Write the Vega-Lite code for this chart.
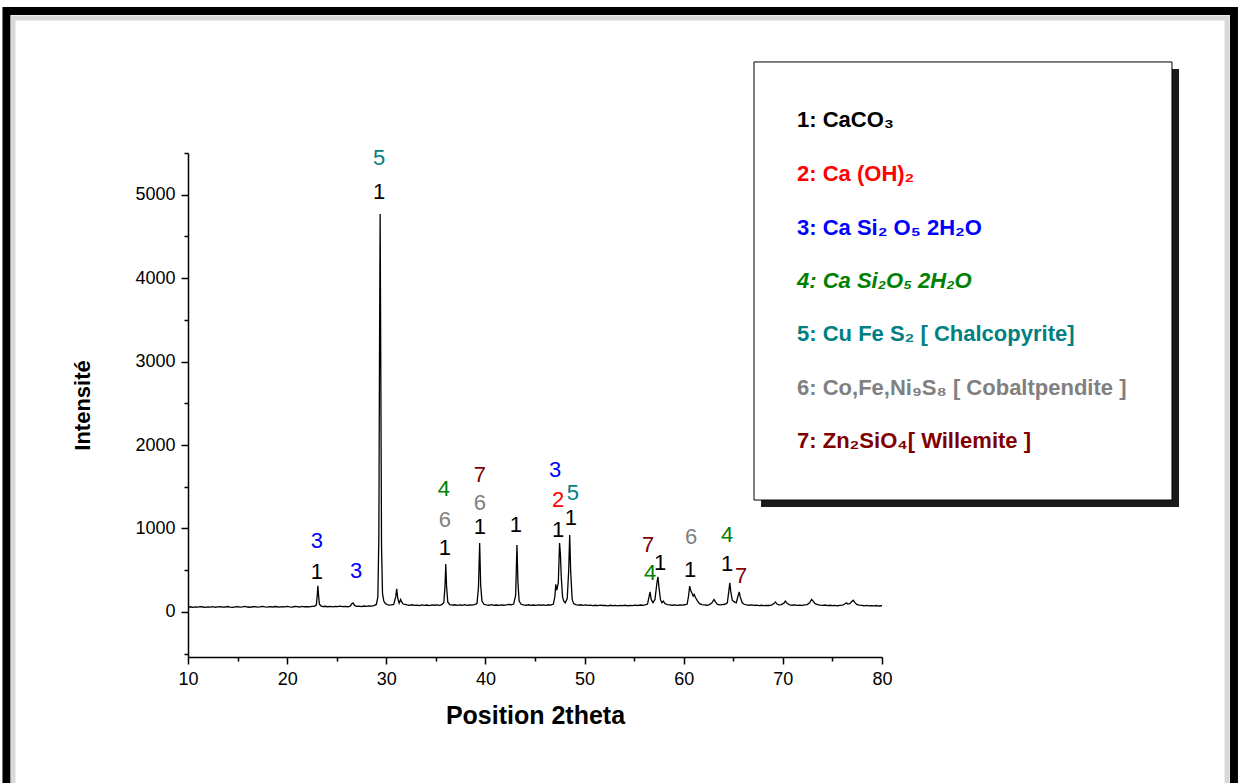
{
 "$schema": "https://vega.github.io/schema/vega-lite/v6.json",
 "width": 694,
 "height": 504,
 "autosize": {"type": "none"},
 "padding": {"left": 188, "top": 153, "right": 359, "bottom": 126},
 "background": "white",
 "config": {
  "view": {"stroke": null},
  "axis": {"domainColor": "black", "domainWidth": 1.5, "tickColor": "black", "tickWidth": 1.5, "labelFont": "Liberation Sans", "labelFontSize": 18, "labelColor": "black", "titleFont": "Liberation Sans", "titleFontWeight": "bold", "titleColor": "black", "grid": false}
 },
 "datasets": {
  "xrd": [
   {"t":10,"i":58},{"t":10.25,"i":62},{"t":10.5,"i":55},{"t":10.75,"i":60},{"t":11,"i":57},{"t":11.25,"i":63},{"t":11.5,"i":59},{"t":11.75,"i":54},{"t":12,"i":61},{"t":12.25,"i":58},{"t":12.5,"i":64},{"t":12.75,"i":56},{"t":13,"i":60},{"t":13.25,"i":62},{"t":13.5,"i":57},{"t":13.75,"i":59},{"t":14,"i":65},{"t":14.25,"i":58},{"t":14.5,"i":55},{"t":14.75,"i":61},{"t":15,"i":63},{"t":15.25,"i":57},{"t":15.5,"i":60},{"t":15.75,"i":66},{"t":16,"i":59},{"t":16.25,"i":56},{"t":16.5,"i":62},{"t":16.75,"i":64},{"t":17,"i":58},{"t":17.25,"i":61},{"t":17.5,"i":67},{"t":17.75,"i":60},{"t":18,"i":57},{"t":18.25,"i":63},{"t":18.5,"i":59},{"t":18.75,"i":65},{"t":19,"i":62},{"t":19.25,"i":58},{"t":19.5,"i":64},{"t":19.75,"i":60},{"t":20,"i":66},{"t":20.25,"i":61},{"t":20.5,"i":58},{"t":20.75,"i":65},{"t":21,"i":63},{"t":21.25,"i":59},{"t":21.5,"i":67},{"t":21.75,"i":62},{"t":22,"i":64},{"t":22.25,"i":60},{"t":22.5,"i":66},{"t":22.75,"i":68},{"t":22.95,"i":85},{"t":23.05,"i":220},{"t":23.1,"i":312},{"t":23.15,"i":230},{"t":23.25,"i":95},{"t":23.4,"i":72},{"t":23.6,"i":64},{"t":23.85,"i":68},{"t":24.1,"i":62},{"t":24.35,"i":66},{"t":24.6,"i":61},{"t":24.85,"i":67},{"t":25.1,"i":63},{"t":25.35,"i":69},{"t":25.6,"i":64},{"t":25.85,"i":66},{"t":26.1,"i":62},{"t":26.35,"i":70},{"t":26.55,"i":100},{"t":26.65,"i":108},{"t":26.8,"i":78},{"t":27,"i":66},{"t":27.25,"i":70},{"t":27.5,"i":64},{"t":27.75,"i":71},{"t":28,"i":67},{"t":28.25,"i":73},{"t":28.5,"i":69},{"t":28.75,"i":76},{"t":29,"i":90},{"t":29.15,"i":180},{"t":29.25,"i":900},{"t":29.32,"i":3200},{"t":29.38,"i":4770},{"t":29.44,"i":3100},{"t":29.52,"i":800},{"t":29.62,"i":220},{"t":29.75,"i":130},{"t":29.9,"i":100},{"t":30.1,"i":88},{"t":30.3,"i":82},{"t":30.5,"i":85},{"t":30.75,"i":90},{"t":30.95,"i":180},{"t":31.05,"i":276},{"t":31.15,"i":170},{"t":31.3,"i":105},{"t":31.45,"i":150},{"t":31.55,"i":120},{"t":31.7,"i":95},{"t":31.9,"i":90},{"t":32.1,"i":84},{"t":32.35,"i":80},{"t":32.6,"i":86},{"t":32.85,"i":78},{"t":33.1,"i":82},{"t":33.35,"i":76},{"t":33.6,"i":84},{"t":33.85,"i":79},{"t":34.1,"i":83},{"t":34.35,"i":77},{"t":34.6,"i":85},{"t":34.85,"i":80},{"t":35.1,"i":84},{"t":35.35,"i":79},{"t":35.6,"i":88},{"t":35.8,"i":110},{"t":35.92,"i":300},{"t":36,"i":575},{"t":36.08,"i":310},{"t":36.2,"i":120},{"t":36.4,"i":88},{"t":36.65,"i":82},{"t":36.9,"i":86},{"t":37.15,"i":79},{"t":37.4,"i":84},{"t":37.65,"i":80},{"t":37.9,"i":87},{"t":38.15,"i":78},{"t":38.4,"i":83},{"t":38.65,"i":81},{"t":38.9,"i":89},{"t":39.15,"i":100},{"t":39.3,"i":300},{"t":39.42,"i":827},{"t":39.52,"i":320},{"t":39.65,"i":130},{"t":39.85,"i":92},{"t":40.1,"i":85},{"t":40.35,"i":80},{"t":40.6,"i":87},{"t":40.85,"i":79},{"t":41.1,"i":83},{"t":41.35,"i":78},{"t":41.6,"i":85},{"t":41.85,"i":80},{"t":42.1,"i":84},{"t":42.35,"i":90},{"t":42.6,"i":86},{"t":42.85,"i":95},{"t":43.05,"i":200},{"t":43.18,"i":803},{"t":43.28,"i":350},{"t":43.4,"i":130},{"t":43.6,"i":92},{"t":43.85,"i":84},{"t":44.1,"i":80},{"t":44.35,"i":86},{"t":44.6,"i":78},{"t":44.85,"i":83},{"t":45.1,"i":79},{"t":45.35,"i":85},{"t":45.6,"i":80},{"t":45.85,"i":84},{"t":46.1,"i":79},{"t":46.35,"i":86},{"t":46.6,"i":82},{"t":46.85,"i":95},{"t":47,"i":180},{"t":47.1,"i":330},{"t":47.2,"i":260},{"t":47.35,"i":350},{"t":47.48,"i":827},{"t":47.56,"i":700},{"t":47.65,"i":420},{"t":47.78,"i":180},{"t":47.9,"i":130},{"t":48.05,"i":110},{"t":48.25,"i":160},{"t":48.4,"i":500},{"t":48.5,"i":923},{"t":48.6,"i":480},{"t":48.75,"i":150},{"t":48.9,"i":100},{"t":49.1,"i":88},{"t":49.35,"i":82},{"t":49.6,"i":86},{"t":49.85,"i":79},{"t":50.1,"i":84},{"t":50.35,"i":78},{"t":50.6,"i":82},{"t":50.85,"i":76},{"t":51.1,"i":80},{"t":51.35,"i":75},{"t":51.6,"i":81},{"t":51.85,"i":77},{"t":52.1,"i":79},{"t":52.35,"i":74},{"t":52.6,"i":80},{"t":52.85,"i":76},{"t":53.1,"i":78},{"t":53.35,"i":73},{"t":53.6,"i":79},{"t":53.85,"i":75},{"t":54.1,"i":80},{"t":54.35,"i":74},{"t":54.6,"i":78},{"t":54.85,"i":76},{"t":55.1,"i":81},{"t":55.35,"i":77},{"t":55.6,"i":83},{"t":55.85,"i":80},{"t":56.1,"i":86},{"t":56.35,"i":95},{"t":56.5,"i":180},{"t":56.6,"i":240},{"t":56.72,"i":150},{"t":56.9,"i":110},{"t":57.1,"i":150},{"t":57.3,"i":350},{"t":57.4,"i":420},{"t":57.5,"i":300},{"t":57.65,"i":150},{"t":57.8,"i":110},{"t":57.95,"i":130},{"t":58.1,"i":100},{"t":58.35,"i":88},{"t":58.6,"i":84},{"t":58.85,"i":80},{"t":59.1,"i":85},{"t":59.35,"i":79},{"t":59.6,"i":83},{"t":59.85,"i":81},{"t":60.1,"i":86},{"t":60.35,"i":95},{"t":60.5,"i":200},{"t":60.6,"i":310},{"t":60.7,"i":260},{"t":60.85,"i":220},{"t":60.95,"i":190},{"t":61.05,"i":210},{"t":61.2,"i":170},{"t":61.4,"i":130},{"t":61.6,"i":100},{"t":61.85,"i":88},{"t":62.1,"i":84},{"t":62.35,"i":80},{"t":62.6,"i":88},{"t":62.85,"i":110},{"t":63.05,"i":150},{"t":63.2,"i":120},{"t":63.4,"i":90},{"t":63.65,"i":84},{"t":63.9,"i":88},{"t":64.15,"i":92},{"t":64.4,"i":110},{"t":64.55,"i":250},{"t":64.65,"i":350},{"t":64.75,"i":240},{"t":64.9,"i":140},{"t":65.1,"i":120},{"t":65.3,"i":110},{"t":65.5,"i":200},{"t":65.6,"i":240},{"t":65.7,"i":180},{"t":65.9,"i":110},{"t":66.1,"i":92},{"t":66.35,"i":85},{"t":66.6,"i":80},{"t":66.85,"i":84},{"t":67.1,"i":78},{"t":67.35,"i":82},{"t":67.6,"i":76},{"t":67.85,"i":80},{"t":68.1,"i":75},{"t":68.35,"i":79},{"t":68.6,"i":77},{"t":68.85,"i":82},{"t":69.1,"i":100},{"t":69.25,"i":120},{"t":69.4,"i":95},{"t":69.6,"i":85},{"t":69.85,"i":88},{"t":70.1,"i":105},{"t":70.25,"i":130},{"t":70.45,"i":100},{"t":70.7,"i":85},{"t":70.95,"i":80},{"t":71.2,"i":84},{"t":71.45,"i":78},{"t":71.7,"i":82},{"t":71.95,"i":79},{"t":72.2,"i":84},{"t":72.45,"i":88},{"t":72.7,"i":110},{"t":72.9,"i":150},{"t":73.05,"i":130},{"t":73.25,"i":100},{"t":73.5,"i":88},{"t":73.75,"i":82},{"t":74,"i":78},{"t":74.25,"i":83},{"t":74.5,"i":76},{"t":74.75,"i":80},{"t":75,"i":75},{"t":75.25,"i":79},{"t":75.5,"i":74},{"t":75.75,"i":78},{"t":76,"i":82},{"t":76.25,"i":95},{"t":76.4,"i":110},{"t":76.55,"i":95},{"t":76.75,"i":100},{"t":76.95,"i":125},{"t":77.1,"i":140},{"t":77.25,"i":115},{"t":77.45,"i":90},{"t":77.7,"i":82},{"t":77.95,"i":78},{"t":78.2,"i":74},{"t":78.45,"i":79},{"t":78.7,"i":72},{"t":78.95,"i":76},{"t":79.2,"i":73},{"t":79.45,"i":77},{"t":79.7,"i":71},{"t":80,"i":74}
  ],
  "labels": [
   {"t":23.01,"i":851,"ph":"3"},{"t":23.01,"i":480,"ph":"1"},{"t":26.95,"i":492,"ph":"3"},{"t":29.27,"i":5444,"ph":"5"},{"t":29.27,"i":5036,"ph":"1"},{"t":35.82,"i":1475,"ph":"4"},{"t":35.92,"i":1103,"ph":"6"},{"t":35.92,"i":767,"ph":"1"},{"t":39.45,"i":1643,"ph":"7"},{"t":39.45,"i":1307,"ph":"6"},{"t":39.45,"i":1019,"ph":"1"},{"t":43.08,"i":1043,"ph":"1"},{"t":47.02,"i":1703,"ph":"3"},{"t":47.32,"i":1343,"ph":"2"},{"t":47.32,"i":983,"ph":"1"},{"t":48.83,"i":1427,"ph":"5"},{"t":48.63,"i":1127,"ph":"1"},{"t":56.4,"i":803,"ph":"7"},{"t":56.6,"i":468,"ph":"4"},{"t":57.61,"i":588,"ph":"1"},{"t":60.74,"i":899,"ph":"6"},{"t":60.64,"i":504,"ph":"1"},{"t":64.37,"i":923,"ph":"4"},{"t":64.37,"i":576,"ph":"1"},{"t":65.78,"i":432,"ph":"7"}
  ],
  "legend": [
   {"t":71.43,"i":5896,"ph":"1","txt":"1: CaCO₃"},
   {"t":71.43,"i":5248,"ph":"2","txt":"2: Ca (OH)₂"},
   {"t":71.43,"i":4601,"ph":"3","txt":"3: Ca Si₂ O₅ 2H₂O"},
   {"t":71.43,"i":3966,"ph":"4","txt":"4: Ca Si₂O₅ 2H₂O"},
   {"t":71.43,"i":3331,"ph":"5","txt":"5: Cu Fe S₂ [ Chalcopyrite]"},
   {"t":71.43,"i":2684,"ph":"6","txt":"6: Co,Fe,Ni₉S₈ [ Cobaltpendite ]"},
   {"t":71.43,"i":2048,"ph":"7","txt":"7: Zn₂SiO₄[ Willemite ]"}
  ]
 },
 "resolve": {"axis": {"x": "independent", "y": "independent"}},
 "layer": [
  {
   "data": {"values": [{}]},
   "mark": {"type": "rect", "fillOpacity": 0, "stroke": "black", "strokeWidth": 8, "clip": false},
   "encoding": {
    "x": {"datum": -8.31, "type": "quantitative", "scale": {"domain": [10, 80], "nice": false, "zero": false},
          "axis": {"orient": "bottom", "values": [15, 25, 35, 45, 55, 65, 75], "labels": false, "domain": false, "tickSize": 4, "title": null}},
    "x2": {"datum": 115.5},
    "y": {"datum": 7202, "type": "quantitative", "scale": {"domain": [-540, 5500], "nice": false, "zero": false},
          "axis": {"orient": "left", "values": [-500, 500, 1500, 2500, 3500, 4500, 5500], "labels": false, "domain": false, "tickSize": 4, "title": null}},
    "y2": {"datum": -2134}
   }
  },
  {
   "data": {"values": [{}]},
   "mark": {"type": "rect", "fillOpacity": 0, "stroke": "#c8c8c8", "strokeWidth": 5, "strokeOpacity": 0.7, "clip": false},
   "encoding": {
    "x": {"datum": -7.65, "type": "quantitative", "axis": null},
    "x2": {"datum": 114.8},
    "y": {"datum": 7118, "type": "quantitative", "axis": null},
    "y2": {"datum": -2134}
   }
  },
  {
   "data": {"values": [{}]},
   "mark": {"type": "rect", "fill": "#1a1a1a", "clip": false},
   "encoding": {
    "x": {"datum": 67.8, "type": "quantitative", "axis": null},
    "x2": {"datum": 109.96},
    "y": {"datum": 6507, "type": "quantitative", "axis": null},
    "y2": {"datum": 1258}
   }
  },
  {
   "data": {"values": [{}]},
   "mark": {"type": "rect", "fill": "white", "stroke": "black", "strokeWidth": 1, "clip": false},
   "encoding": {
    "x": {"datum": 67.09, "type": "quantitative", "axis": null},
    "x2": {"datum": 109.25},
    "y": {"datum": 6591, "type": "quantitative", "axis": null},
    "y2": {"datum": 1341}
   }
  },
  {
   "data": {"name": "legend"},
   "transform": [{"filter": "datum.ph != '4'"}],
   "mark": {"type": "text", "align": "left", "baseline": "middle", "font": "Liberation Sans", "fontSize": 22, "fontWeight": "bold", "clip": false},
   "encoding": {
    "x": {"field": "t", "type": "quantitative", "axis": null},
    "y": {"field": "i", "type": "quantitative", "axis": null},
    "text": {"field": "txt"},
    "color": {"field": "ph", "type": "nominal", "scale": {"domain": ["1","2","3","4","5","6","7"], "range": ["#000000","#ff0000","#0000ff","#008000","#008080","#808080","#800000"]}, "legend": null}
   }
  },
  {
   "data": {"name": "legend"},
   "transform": [{"filter": "datum.ph == '4'"}],
   "mark": {"type": "text", "align": "left", "baseline": "middle", "font": "Liberation Sans", "fontSize": 22, "fontWeight": "bold", "fontStyle": "italic", "clip": false},
   "encoding": {
    "x": {"field": "t", "type": "quantitative", "axis": null},
    "y": {"field": "i", "type": "quantitative", "axis": null},
    "text": {"field": "txt"},
    "color": {"field": "ph", "type": "nominal", "legend": null}
   }
  },
  {
   "data": {"name": "xrd"},
   "mark": {"type": "line", "color": "black", "strokeWidth": 1.3, "interpolate": "linear"},
   "encoding": {
    "x": {"field": "t", "type": "quantitative",
          "axis": {"orient": "bottom", "values": [10, 20, 30, 40, 50, 60, 70, 80], "tickSize": 7, "labelPadding": 6, "labelFlush": false, "format": "d", "title": "Position 2theta", "titleFontSize": 25, "titlePadding": 15}},
    "y": {"field": "i", "type": "quantitative",
          "axis": {"orient": "left", "values": [0, 1000, 2000, 3000, 4000, 5000], "tickSize": 7, "labelPadding": 6, "format": "d", "title": "Intensité", "titleFontSize": 22, "titlePadding": 40}}
   }
  },
  {
   "data": {"name": "labels"},
   "mark": {"type": "text", "align": "center", "baseline": "middle", "font": "Liberation Sans", "fontSize": 22, "clip": false},
   "encoding": {
    "x": {"field": "t", "type": "quantitative", "axis": null},
    "y": {"field": "i", "type": "quantitative", "axis": null},
    "text": {"field": "ph"},
    "color": {"field": "ph", "type": "nominal", "legend": null}
   }
  }
 ]
}
